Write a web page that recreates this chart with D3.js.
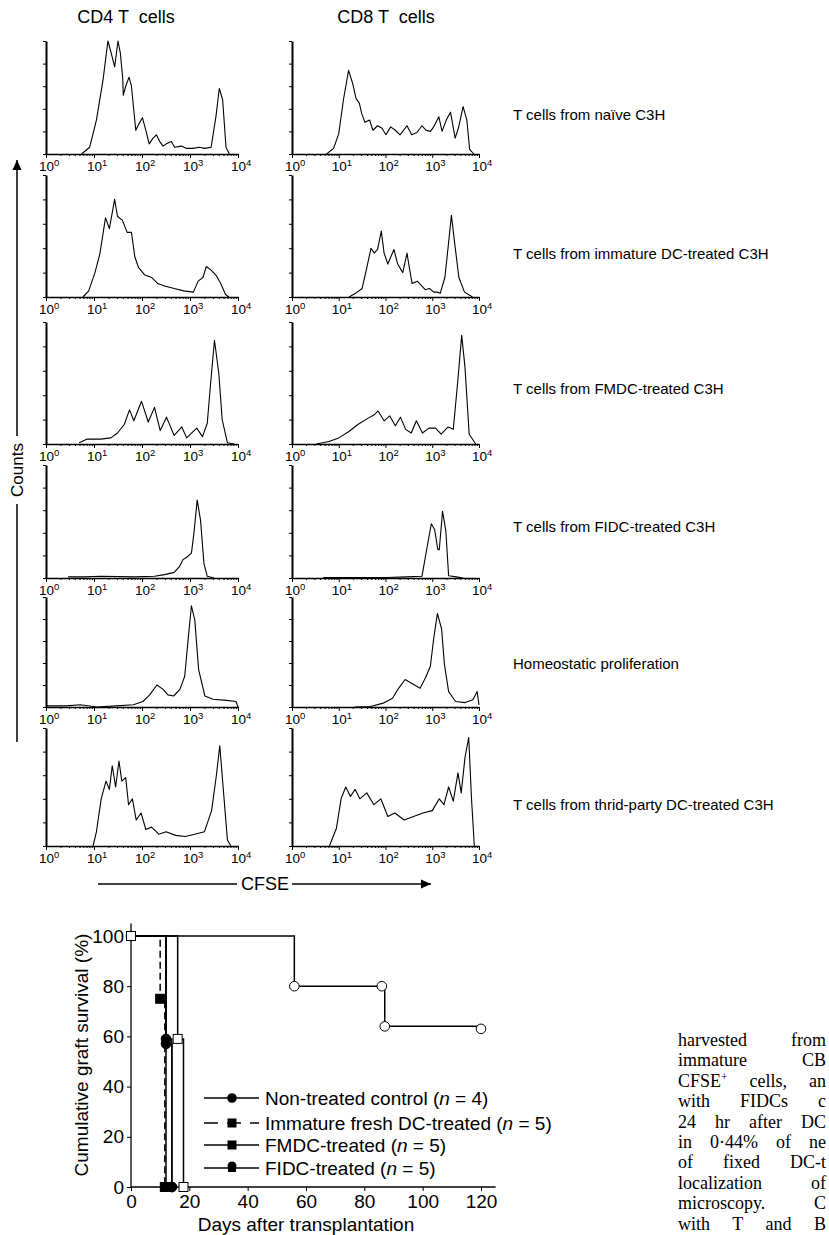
<!DOCTYPE html>
<html>
<head>
<meta charset="utf-8">
<script src="https://cdn.jsdelivr.net/npm/d3@7"></script>
<style>
  body { margin: 0; background: #fff; }
  svg { display: block; font-family: Arial, "Liberation Sans", sans-serif; }
</style>
</head>
<body>
<svg id="fig" width="829" height="1235"></svg>
<script>
// ---- CFSE histograms: [log10 CFSE, % of panel height] ----
const cd4Naive = [[0.74,0],[0.91,6],[1.05,30],[1.19,66],[1.29,100],[1.36,89],[1.43,77],[1.5,100],[1.55,89],[1.6,66],[1.61,52],[1.66,60],[1.73,68],[1.78,60],[1.87,21],[1.94,27],[2.01,32],[2.08,21],[2.15,9],[2.23,14],[2.3,17],[2.37,11],[2.44,7],[2.51,9],[2.61,11],[2.68,6],[2.82,7],[2.92,5],[3.06,5],[3.2,6],[3.3,5],[3.44,6],[3.54,33],[3.61,58],[3.68,48],[3.75,6],[3.82,0]];
const cd8Naive = [[0.74,0],[0.89,5],[1.0,18],[1.1,48],[1.21,74],[1.3,62],[1.37,49],[1.44,45],[1.49,36],[1.56,28],[1.66,30],[1.73,21],[1.83,25],[1.92,23],[2.01,17],[2.11,24],[2.21,21],[2.31,17],[2.46,25],[2.56,17],[2.67,19],[2.78,25],[2.87,21],[2.96,20],[3.03,24],[3.14,33],[3.21,20],[3.3,30],[3.39,37],[3.49,14],[3.56,23],[3.66,42],[3.74,30],[3.8,4],[3.89,0]];
const cd4Immature = [[0.77,0],[0.89,5],[1.02,20],[1.12,35],[1.24,65],[1.32,56],[1.43,80],[1.49,66],[1.59,63],[1.69,53],[1.78,53],[1.85,33],[1.93,24],[2.06,18],[2.2,16],[2.33,11],[2.47,9],[2.67,7],[2.87,5],[3.07,4],[3.17,13],[3.27,16],[3.34,25],[3.44,22],[3.54,18],[3.64,11],[3.74,2],[3.81,0]];
const cd8Immature = [[1.22,0],[1.36,3],[1.5,7],[1.6,24],[1.69,40],[1.76,36],[1.83,39],[1.91,54],[1.97,36],[2.05,27],[2.18,39],[2.26,27],[2.37,20],[2.46,36],[2.51,24],[2.57,11],[2.68,13],[2.78,9],[2.85,6],[2.94,7],[3.03,4],[3.1,4],[3.17,3],[3.27,16],[3.34,41],[3.41,67],[3.48,44],[3.57,16],[3.69,4],[3.86,0]];
const cd4Fmdc = [[0.69,1],[0.86,4],[1.14,4],[1.35,5],[1.49,9],[1.63,16],[1.74,28],[1.83,19],[1.99,35],[2.13,18],[2.26,30],[2.38,11],[2.51,22],[2.67,7],[2.83,14],[2.93,5],[3.14,13],[3.26,6],[3.36,17],[3.43,50],[3.51,85],[3.6,58],[3.67,20],[3.78,1],[3.92,0]];
const cd8Fmdc = [[0.52,0],[0.79,2],[1.0,5],[1.21,10],[1.41,16],[1.62,21],[1.76,24],[1.84,27],[1.97,19],[2.09,23],[2.21,15],[2.32,22],[2.43,12],[2.55,9],[2.66,19],[2.79,9],[2.93,13],[3.07,13],[3.19,8],[3.34,14],[3.45,12],[3.54,49],[3.63,89],[3.7,63],[3.79,8],[3.93,0]];
const cd4Fidc = [[0.46,1],[0.8,1],[1.15,1.5],[1.84,1],[2.26,1.5],[2.47,3],[2.67,5],[2.78,10],[2.85,16],[2.95,19],[3.03,22],[3.08,39],[3.15,69],[3.22,51],[3.29,13],[3.36,1.5],[3.5,0]];
const cd8Fidc = [[0.67,0.5],[2.03,0.5],[2.44,1],[2.78,1.5],[2.88,25],[2.98,48],[3.05,43],[3.12,25],[3.15,25],[3.22,59],[3.29,42],[3.35,2],[3.52,1],[3.66,0]];
const cd4Homeo = [[0.02,1],[0.43,1],[0.71,2],[1.06,0],[1.47,1],[1.82,2],[2.02,5],[2.16,11],[2.31,20],[2.44,16],[2.54,11],[2.66,10],[2.79,16],[2.89,28],[2.96,61],[3.03,92],[3.1,79],[3.18,34],[3.31,10],[3.48,7],[3.76,6],[3.96,5],[4.0,0]];
const cd8Homeo = [[1.34,0],[1.68,0.5],[1.95,3.5],[2.15,8],[2.28,17],[2.42,25],[2.62,20],[2.74,17],[2.86,27],[2.96,37],[3.03,62],[3.11,85],[3.2,71],[3.26,39],[3.35,14],[3.5,5],[3.7,4],[3.87,6.5],[3.96,14],[4.0,2]];
const cd4Third = [[0.98,0],[1.05,12],[1.15,40],[1.25,55],[1.32,48],[1.38,68],[1.45,50],[1.52,72],[1.58,55],[1.66,58],[1.72,35],[1.8,40],[1.88,22],[1.98,28],[2.08,14],[2.2,16],[2.35,10],[2.5,12],[2.7,9],[2.9,8],[3.1,10],[3.3,12],[3.45,30],[3.55,60],[3.62,85],[3.7,45],[3.78,5],[3.85,0]];
const cd8Third = [[0.8,0],[0.95,15],[1.05,40],[1.15,50],[1.25,42],[1.35,48],[1.45,40],[1.6,45],[1.75,35],[1.9,40],[2.05,25],[2.2,28],[2.4,22],[2.6,25],[2.8,28],[3.0,30],[3.15,40],[3.25,35],[3.35,50],[3.45,38],[3.55,62],[3.62,45],[3.7,75],[3.78,92],[3.84,40],[3.9,0]];

const histRows = [
  [cd4Naive, cd8Naive],
  [cd4Immature, cd8Immature],
  [cd4Fmdc, cd8Fmdc],
  [cd4Fidc, cd8Fidc],
  [cd4Homeo, cd8Homeo],
  [cd4Third, cd8Third]
];
const rowLabels = ["T cells from naïve C3H", "T cells from immature DC-treated C3H",
  "T cells from FMDC-treated C3H", "T cells from FIDC-treated C3H",
  "Homeostatic proliferation", "T cells from thrid-party DC-treated C3H"];
const columnTitles = ["CD4 T  cells", "CD8 T  cells"];
const decades = [0, 1, 2, 3, 4];

// ---- Graft survival (Kaplan-Meier): [day, % surviving] ----
const survNonTreated = [[0,100],[12,57],[14,0]];
const survImmature   = [[0,100],[10,75],[11.6,0]];
const survFmdc       = [[0,100],[12,0]];
const survFidc       = [[0,100],[12,59],[14,0]];
const survOpenSquare = [[0,100],[16,59],[18,0]];
const survOpenCircle = [[0,100],[56,80],[86,80],[87,64],[120,63]];
const survXTicks = [0, 20, 40, 60, 80, 100, 120];
const survYTicks = [0, 20, 40, 60, 80, 100];
const legendLabels = [
  ["Non-treated control (", "n", " = 4)"],
  ["Immature fresh DC-treated (", "n", " = 5)"],
  ["FMDC-treated (", "n", " = 5)"],
  ["FIDC-treated (", "n", " = 5)"]
];
const bodyLines = ["harvested from", "immature CB", "CFSE+ cells, an", "with FIDCs c",
  "24 hr after DC", "in 0·44% of ne", "of fixed DC-t", "localization of",
  "microscopy. C", "with T and B"];

// ---- layout ----
const svg = d3.select("#fig");
const rowTop = [41, 175, 322, 465, 597, 728];
const rowBot = [154, 297, 444, 578, 707, 846];
const colX = [[46, 238], [292, 479]];
const titleX = [126, 386];
const rowLabelY = [115, 254, 389, 527, 664, 805];

const defs = svg.append("defs");
defs.append("marker").attr("id", "arr")
  .attr("viewBox", "0 -5 10 10").attr("refX", 10).attr("refY", 0)
  .attr("markerWidth", 10).attr("markerHeight", 10).attr("markerUnits", "userSpaceOnUse")
  .attr("orient", "auto")
  .append("path").attr("d", "M0,-4.5L10,0L0,4.5Z").attr("fill", "#000");

// column titles
columnTitles.forEach((t, i) => {
  svg.append("text").attr("x", titleX[i]).attr("y", 23)
    .attr("text-anchor", "middle").attr("font-size", 18)
    .style("white-space", "pre").text(t);
});

histRows.forEach((pair, r) => {
  pair.forEach((data, c) => {
    const x = d3.scaleLog().domain([1, 1e4]).range(colX[c]);
    const y = d3.scaleLinear().domain([0, 100]).range([rowBot[r], rowTop[r]]);
    const g = svg.append("g");

    // minor x ticks
    const minor = [];
    for (let d = 0; d < 4; d++) for (let m = 2; m < 10; m++) minor.push(m * 10 ** d);
    g.append("g").attr("transform", `translate(0,${rowBot[r]})`)
      .call(d3.axisBottom(x).tickValues(minor).tickSize(2).tickFormat(""))
      .call(a => a.select(".domain").remove());
    g.append("g").attr("transform", `translate(0,${rowBot[r]})`)
      .call(d3.axisBottom(x).tickValues(decades.map(d => 10 ** d)).tickSize(4).tickFormat("").tickSizeOuter(0))
      .call(a => a.select(".domain").attr("stroke-width", 1.5));

    g.append("g").attr("transform", `translate(${colX[c][0]},0)`)
      .call(d3.axisLeft(y).tickValues([0, 20, 40, 60, 80, 100]).tickSize(3).tickFormat("").tickSizeOuter(0))
      .call(a => a.select(".domain").attr("stroke-width", 2));

    // decade labels 10^n
    decades.forEach(d => {
      const t = g.append("text").attr("x", x(10 ** d) - 7).attr("y", rowBot[r] + 17)
        .attr("font-size", 13.5);
      t.append("tspan").text("10");
      t.append("tspan").attr("dy", -5).attr("font-size", 9.5).text(d);
    });

    const line = d3.line().x(d => x(10 ** d[0])).y(d => y(d[1]));
    g.append("path").datum(data).attr("d", line)
      .attr("fill", "none").attr("stroke", "#000").attr("stroke-width", 1.1)
      .attr("stroke-linejoin", "round");
  });
  svg.append("text").attr("x", 513).attr("y", rowLabelY[r] + 5)
    .attr("font-size", 15).text(rowLabels[r]);
});

// Counts arrow
svg.append("line").attr("x1", 17).attr("x2", 17).attr("y1", 742).attr("y2", 504).attr("stroke", "#000").attr("stroke-width", 1.5);
svg.append("line").attr("x1", 17).attr("x2", 17).attr("y1", 436).attr("y2", 160).attr("stroke", "#000").attr("stroke-width", 1.5).attr("marker-end", "url(#arr)");
svg.append("text").attr("transform", "translate(23,470) rotate(-90)").attr("text-anchor", "middle")
  .attr("font-size", 17).text("Counts");

// CFSE arrow
svg.append("line").attr("x1", 98).attr("x2", 237).attr("y1", 884).attr("y2", 884).attr("stroke", "#000").attr("stroke-width", 1.5);
svg.append("line").attr("x1", 292).attr("x2", 431).attr("y1", 884).attr("y2", 884).attr("stroke", "#000").attr("stroke-width", 1.5).attr("marker-end", "url(#arr)");
svg.append("text").attr("x", 265).attr("y", 890).attr("text-anchor", "middle").attr("font-size", 18).text("CFSE");

// ---- survival chart ----
const sx = d3.scaleLinear().domain([0, 120]).range([131, 481]);
const sy = d3.scaleLinear().domain([0, 100]).range([1187, 936]);
const sg = svg.append("g").attr("font-size", 19);

sg.append("g").attr("transform", "translate(0,1187)")
  .call(d3.axisBottom(sx).tickValues(survXTicks).tickSize(4).tickPadding(4))
  .call(a => { a.select(".domain").remove(); a.selectAll("text").attr("font-size", 19).attr("font-family", "Arial, 'Liberation Sans', sans-serif"); });
sg.append("g").attr("transform", "translate(131,0)")
  .call(d3.axisLeft(sy).tickValues(survYTicks).tickSize(4).tickPadding(3))
  .call(a => { a.select(".domain").remove(); a.selectAll("text").attr("font-size", 19).attr("font-family", "Arial, 'Liberation Sans', sans-serif"); });
sg.append("line").attr("x1", sx(0)).attr("x2", sx(125)).attr("y1", sy(0)).attr("y2", sy(0)).attr("stroke", "#000").attr("stroke-width", 1.3);
sg.append("line").attr("x1", sx(0)).attr("x2", sx(0)).attr("y1", sy(0)).attr("y2", sy(105)).attr("stroke", "#000").attr("stroke-width", 1.3);

sg.append("text").attr("x", 306).attr("y", 1231).attr("text-anchor", "middle").text("Days after transplantation");
sg.append("text").attr("transform", "translate(88,1055) rotate(-90)").attr("text-anchor", "middle").text("Cumulative graft survival (%)");

const step = d3.line().x(d => sx(d[0])).y(d => sy(d[1])).curve(d3.curveStepAfter);
const series = [
  { data: survOpenCircle, dash: null, mark: "circle", fill: "#fff" },
  { data: survOpenSquare, dash: null, mark: "square", fill: "#fff" },
  { data: survFmdc, dash: null, mark: "square", fill: "#000" },
  { data: survFidc, dash: null, mark: "circle", fill: "#000" },
  { data: survNonTreated, dash: null, mark: "circle", fill: "#000" },
  { data: survImmature, dash: "7,4", mark: "square", fill: "#000" }
];
series.forEach(s => {
  sg.append("path").datum(s.data).attr("d", step).attr("fill", "none")
    .attr("stroke", "#000").attr("stroke-width", 1.5).attr("stroke-dasharray", s.dash);
});
series.forEach(s => {
  const pts = s.data.slice(1);
  if (s.fill === "#fff") pts.unshift(s.data[0]);
  pts.forEach(p => {
    if (s.mark === "circle") {
      sg.append("circle").attr("cx", sx(p[0])).attr("cy", sy(p[1])).attr("r", 4.8)
        .attr("fill", s.fill).attr("stroke", "#000").attr("stroke-width", 1);
    } else {
      sg.append("rect").attr("x", sx(p[0]) - 4.5).attr("y", sy(p[1]) - 4.5).attr("width", 9).attr("height", 9)
        .attr("fill", s.fill).attr("stroke", "#000").attr("stroke-width", 1);
    }
  });
});

// legend
const legY = [1098, 1123, 1145, 1168];
const legMarks = ["circle", "square", "square", "fidc"];
legendLabels.forEach((lab, i) => {
  const y = legY[i];
  sg.append("line").attr("x1", 204).attr("x2", 259).attr("y1", y).attr("y2", y)
    .attr("stroke", "#000").attr("stroke-width", 1.5).attr("stroke-dasharray", i === 1 ? "14,9" : null);
  if (legMarks[i] === "circle") sg.append("circle").attr("cx", 232).attr("cy", y).attr("r", 4.8);
  else if (legMarks[i] === "square") sg.append("rect").attr("x", 227.5).attr("y", y - 4.5).attr("width", 9).attr("height", 9);
  else {
    sg.append("circle").attr("cx", 232).attr("cy", y - 2).attr("r", 4.5);
    sg.append("rect").attr("x", 228).attr("y", y - 1).attr("width", 8).attr("height", 5);
  }
  const t = sg.append("text").attr("x", 265).attr("y", y + 7);
  t.append("tspan").text(lab[0]);
  t.append("tspan").attr("font-style", "italic").text(lab[1]);
  t.append("tspan").text(lab[2]);
});

// ---- body text, justified up to the right edge ----
const bt = svg.append("g").attr("font-family", "'Liberation Serif', 'Times New Roman', serif").attr("font-size", 18);
const textLeft = 678, textRight = 826;
bodyLines.forEach((l, i) => {
  const t = bt.append("text").attr("x", textLeft).attr("y", 1046 + i * 20.4);
  if (l.startsWith("CFSE+")) {
    t.append("tspan").text("CFSE");
    t.append("tspan").attr("dy", -6).attr("font-size", 11.5).text("+");
    t.append("tspan").attr("dy", 6).text(" cells, an");
  } else t.text(l);
  const nSpaces = (l.match(/ /g) || []).length;
  const w = t.node().getComputedTextLength();
  if (nSpaces > 0 && w < textRight - textLeft) t.attr("word-spacing", (textRight - textLeft - w) / nSpaces);
});
</script>
</body>
</html>
